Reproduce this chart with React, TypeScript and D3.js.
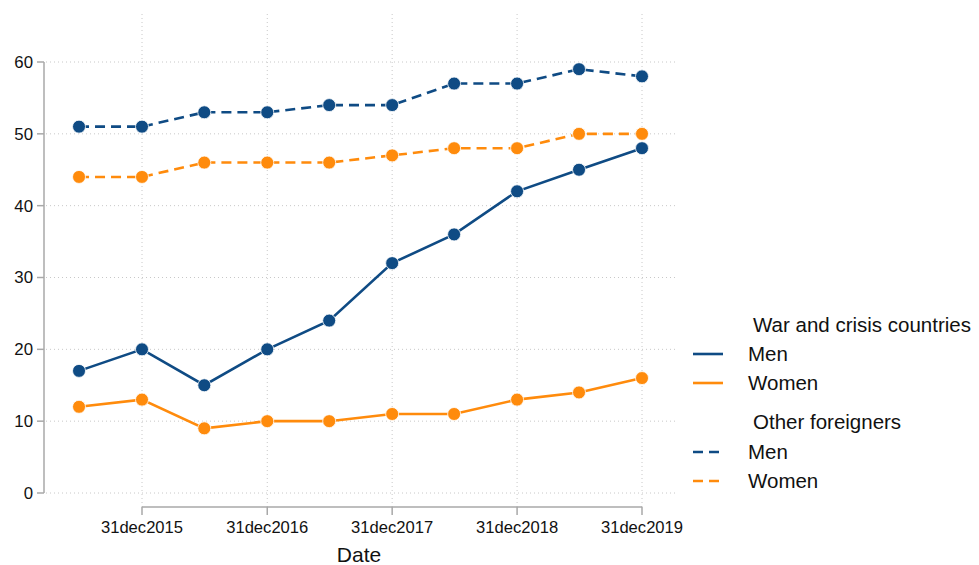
import React from "react";
import * as d3 from "d3";

const dates = [
  "2015-06-30", "2015-12-31", "2016-06-30", "2016-12-31", "2017-06-30",
  "2017-12-31", "2018-06-30", "2018-12-31", "2019-06-30", "2019-12-31",
];
const warMen = [17, 20, 15, 20, 24, 32, 36, 42, 45, 48];
const warWomen = [12, 13, 9, 10, 10, 11, 11, 13, 14, 16];
const otherMen = [51, 51, 53, 53, 54, 54, 57, 57, 59, 58];
const otherWomen = [44, 44, 46, 46, 46, 47, 48, 48, 50, 50];
const xTickDates = ["2015-12-31", "2016-12-31", "2017-12-31", "2018-12-31", "2019-12-31"];
const yTicks = [0, 10, 20, 30, 40, 50, 60];

const NAVY = "#0f4b84";
const ORANGE = "#ff8b0c";
const FONT = "'Liberation Sans', Arial, Helvetica, sans-serif";

const parse = d3.utcParse("%Y-%m-%d");
const fmt = (d: Date) => d3.utcFormat("%d")(d) + d3.utcFormat("%b")(d).toLowerCase() + d3.utcFormat("%Y")(d);

export default function App() {
  const W = 979, H = 565;
  const x = d3.scaleUtc().domain([parse("2015-12-31")!, parse("2019-12-31")!]).range([142, 642]);
  const y = d3.scaleLinear().domain([0, 60]).range([493, 62]);
  const plotLeft = 46, plotRight = 675, plotTop = 14, plotBottom = 507;

  const series = [
    { vals: otherMen, color: NAVY, dash: "10 6" },
    { vals: otherWomen, color: ORANGE, dash: "10 6" },
    { vals: warWomen, color: ORANGE, dash: null },
    { vals: warMen, color: NAVY, dash: null },
  ];
  const line = d3.line<number>().x((_, i) => x(parse(dates[i])!)).y((v) => y(v));

  const legendItems = [
    { type: "title", text: "War and crisis countries", y: 325 },
    { type: "item", text: "Men", color: NAVY, dash: null, y: 354 },
    { type: "item", text: "Women", color: ORANGE, dash: null, y: 383 },
    { type: "title", text: "Other foreigners", y: 422 },
    { type: "item", text: "Men", color: NAVY, dash: "10 6", y: 452 },
    { type: "item", text: "Women", color: ORANGE, dash: "10 6", y: 481 },
  ];

  return (
    <svg width={W} height={H} style={{ position: "absolute", left: 0, top: 0, background: "#fff" }} fontFamily={FONT}>
      <rect width={W} height={H} fill="#fff" />
      {yTicks.map((t) => (
        <line key={"hg" + t} x1={plotLeft} x2={plotRight} y1={y(t)} y2={y(t)} stroke="#c8c8c8" strokeWidth={1} strokeDasharray="1 3" />
      ))}
      {xTickDates.map((d) => (
        <line key={"vg" + d} x1={x(parse(d)!)} x2={x(parse(d)!)} y1={plotTop} y2={plotBottom} stroke="#c8c8c8" strokeWidth={1} strokeDasharray="1 3" />
      ))}
      <line x1={44} x2={44} y1={y(60)} y2={y(0)} stroke="#a8a8a8" strokeWidth={1.5} />
      {yTicks.map((t) => (
        <g key={"yt" + t}>
          <line x1={37} x2={44} y1={y(t)} y2={y(t)} stroke="#a8a8a8" strokeWidth={1.5} />
          <text x={33} y={y(t)} dy="0.35em" textAnchor="end" fontSize={16.8} fill="#111">{t}</text>
        </g>
      ))}
      <line x1={x(parse(xTickDates[0])!)} x2={x(parse(xTickDates[xTickDates.length - 1])!)} y1={507} y2={507} stroke="#a8a8a8" strokeWidth={1.5} />
      {xTickDates.map((d) => (
        <g key={"xt" + d}>
          <line x1={x(parse(d)!)} x2={x(parse(d)!)} y1={507} y2={515} stroke="#a8a8a8" strokeWidth={1.5} />
          <text x={x(parse(d)!)} y={527} dy="0.35em" textAnchor="middle" fontSize={16.6} fill="#111">{fmt(parse(d)!)}</text>
        </g>
      ))}
      <text x={359} y={555} dy="0.35em" textAnchor="middle" fontSize={21} fill="#111">Date</text>
      {series.map((s, si) => (
        <g key={"s" + si}>
          <path d={line(s.vals)!} fill="none" stroke={s.color} strokeWidth={2.6} strokeDasharray={s.dash ?? undefined} />
          {s.vals.map((v, i) => (
            <circle key={i} cx={x(parse(dates[i])!)} cy={y(v)} r={6.5} fill={s.color} stroke="#fff" strokeWidth={0.8} />
          ))}
        </g>
      ))}
      {legendItems.map((it, i) =>
        it.type === "title" ? (
          <text key={"l" + i} x={753} y={it.y} dy="0.35em" fontSize={20.5} fill="#111">{it.text}</text>
        ) : (
          <g key={"l" + i}>
            <line x1={693} x2={723} y1={it.y} y2={it.y} stroke={it.color} strokeWidth={2.6} strokeDasharray={it.dash ?? undefined} />
            <text x={748} y={it.y} dy="0.35em" fontSize={20.5} fill="#111">{it.text}</text>
          </g>
        )
      )}
    </svg>
  );
}
